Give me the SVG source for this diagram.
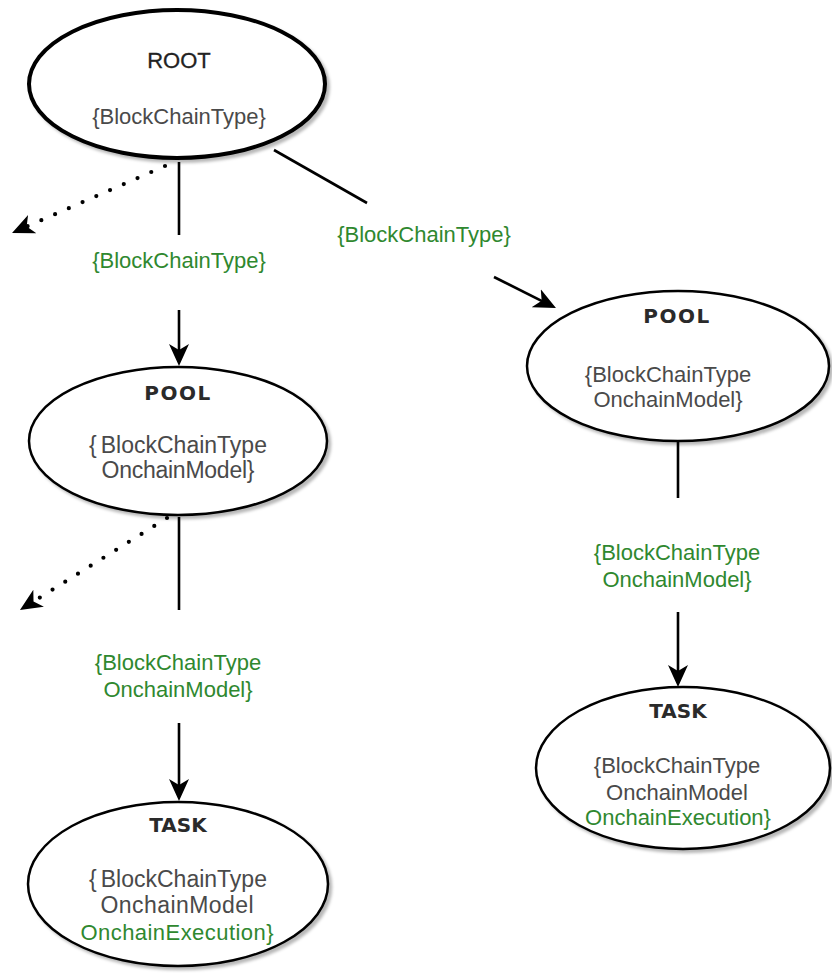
<svg xmlns="http://www.w3.org/2000/svg" width="832" height="973" viewBox="0 0 832 973">
  <defs>
    <filter id="shadow" x="-10%" y="-10%" width="125%" height="130%">
      <feDropShadow dx="3" dy="3" stdDeviation="1.6" flood-color="#000" flood-opacity="0.28"/>
    </filter>
    <marker id="arrow" viewBox="0 0 22 22" refX="17" refY="11" markerWidth="22" markerHeight="22" markerUnits="userSpaceOnUse" orient="auto">
      <path d="M0,1 L22,11 L0,21 L6,11 z" fill="#000"/>
    </marker>
  </defs>
  <style>
    .node { fill: #fff; stroke: #000; stroke-width: 2.5; filter: url(#shadow); }
    .root { stroke-width: 4; }
    .title { font-family: "Liberation Sans", Arial, sans-serif; font-size: 22px; fill: #222; stroke: #222; stroke-width: 0.3; text-anchor: middle; }
    .head { font-family: "DejaVu Sans", Verdana, sans-serif; font-size: 20px; font-weight: bold; fill: #2a2a2a; text-anchor: middle; }
    .body { font-family: "Liberation Sans", Arial, sans-serif; font-size: 22px; fill: #4a4a4a; text-anchor: middle; }
    .wide { font-size: 23px; }
    .green { fill: #2f882f; }
    .edge { fill: none; stroke: #000; stroke-width: 2.6; }
    .dotted { fill: none; stroke: #000; stroke-width: 4.2; stroke-linecap: round; stroke-dasharray: 0 15; }
  </style>

  <!-- connectors -->
  <g id="connectors">
    <g id="root-to-pool-left">
      <line class="edge" x1="179" y1="162" x2="179" y2="235"/>
      <text class="body green" x="179" y="268">{BlockChainType}</text>
      <line class="edge" x1="179" y1="310" x2="179" y2="361" marker-end="url(#arrow)"/>
    </g>
    <g id="root-to-pool-right">
      <line class="edge" x1="274" y1="150" x2="367" y2="203"/>
      <text class="body green" x="424" y="242">{BlockChainType}</text>
      <line class="edge" x1="494" y1="277" x2="551.5" y2="305.8" marker-end="url(#arrow)"/>
    </g>
    <g id="root-dotted">
      <line class="dotted" x1="165" y1="166" x2="16.6" y2="231"/>
      <line class="edge" x1="17.5" y1="230.6" x2="16.6" y2="231" stroke-width="0.1" marker-end="url(#arrow)"/>
    </g>
    <g id="pool-left-dotted">
      <line class="dotted" x1="167" y1="518" x2="24.2" y2="607.3"/>
      <line class="edge" x1="25" y1="606.8" x2="24.2" y2="607.3" stroke-width="0.1" marker-end="url(#arrow)"/>
    </g>
    <g id="pool-left-to-task-left">
      <line class="edge" x1="179" y1="517" x2="179" y2="610"/>
      <text class="body green" x="178" y="670">{BlockChainType</text>
      <text class="body green" x="178" y="697">OnchainModel}</text>
      <line class="edge" x1="179" y1="723" x2="179" y2="796" marker-end="url(#arrow)"/>
    </g>
    <g id="pool-right-to-task-right">
      <line class="edge" x1="678" y1="442" x2="678" y2="498"/>
      <text class="body green" x="677" y="560">{BlockChainType</text>
      <text class="body green" x="677" y="587">OnchainModel}</text>
      <line class="edge" x1="678" y1="612" x2="678" y2="682" marker-end="url(#arrow)"/>
    </g>
  </g>

  <!-- nodes -->
  <g id="root">
    <ellipse class="node root" cx="177" cy="84" rx="148" ry="74"/>
    <text class="title" x="179" y="68">ROOT</text>
    <text class="body" x="179" y="124">{BlockChainType}</text>
  </g>

  <g id="pool-left">
    <ellipse class="node" cx="178" cy="441" rx="149" ry="74"/>
    <text class="head" x="178" y="400" letter-spacing="1.5">POOL</text>
    <text class="body wide" x="178" y="453">{<tspan dx="4">BlockChainType</tspan></text>
    <text class="body wide" x="178" y="478" textLength="153">OnchainModel}</text>
  </g>

  <g id="pool-right">
    <ellipse class="node" cx="678" cy="366" rx="151" ry="75"/>
    <text class="head" x="677" y="323" letter-spacing="1.5">POOL</text>
    <text class="body" x="668" y="382">{BlockChainType</text>
    <text class="body" x="668" y="407">OnchainModel}</text>
  </g>

  <g id="task-left">
    <ellipse class="node" cx="178" cy="884" rx="150" ry="82"/>
    <text class="head" x="178" y="832">TASK</text>
    <text class="body wide" x="178" y="887">{<tspan dx="4">BlockChainType</tspan></text>
    <text class="body wide" x="177" y="913" textLength="153">OnchainModel</text>
    <text class="body green" x="177" y="940" textLength="193">OnchainExecution}</text>
  </g>

  <g id="task-right">
    <ellipse class="node" cx="683" cy="768" rx="147" ry="81"/>
    <text class="head" x="678" y="718">TASK</text>
    <text class="body" x="677" y="773">{BlockChainType</text>
    <text class="body" x="677" y="800">OnchainModel</text>
    <text class="body green" x="678" y="825">OnchainExecution}</text>
  </g>
</svg>
